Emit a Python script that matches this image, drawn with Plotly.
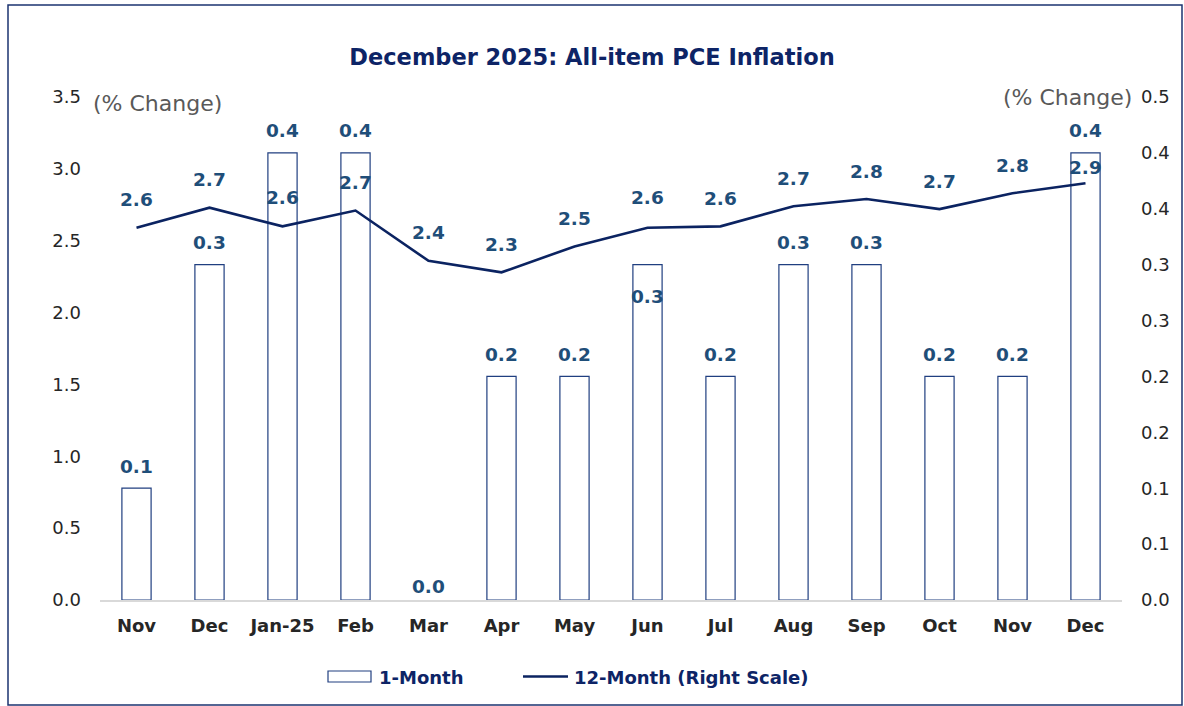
import plotly.graph_objects as go

# ---- data ----
months = ["Nov", "Dec", "Jan-25", "Feb", "Mar", "Apr", "May", "Jun",
          "Jul", "Aug", "Sep", "Oct", "Nov", "Dec"]
one_month = [0.1, 0.3, 0.4, 0.4, 0.0, 0.2, 0.2, 0.3, 0.2, 0.3, 0.3, 0.2, 0.2, 0.4]
twelve_month = [2.59, 2.73, 2.60, 2.71, 2.36, 2.28, 2.46, 2.59, 2.60, 2.74,
                2.79, 2.72, 2.83, 2.90]

# bar-axis (1-Month) ticks as printed on the chart
bar_tick_vals = [0.0, 0.05, 0.10, 0.15, 0.20, 0.25, 0.30, 0.35, 0.40, 0.45]
bar_tick_text = ["0.0", "0.1", "0.1", "0.2", "0.2", "0.3", "0.3", "0.4", "0.4", "0.5"]
# line-axis (12-Month) ticks
line_tick_vals = [0.0, 0.5, 1.0, 1.5, 2.0, 2.5, 3.0, 3.5]
line_tick_text = ["0.0", "0.5", "1.0", "1.5", "2.0", "2.5", "3.0", "3.5"]

series_names = ["1-Month", "12-Month (Right Scale)"]

# label offsets (pixels, styling only)
bar_label_shift = [22, 22, 22, 22, 14, 22, 22, -32, 22, 22, 22, 22, 22, 22]
line_label_shift = [28, 28, 29, 28, 28, 28, 28, 30, 28, 28, 28, 28, 28, 16]

FONT = "DejaVu Sans"
NAVY = "#0D2466"
LABEL = "#1F4E79"
LINE = "#0B2361"
BAR_EDGE = "#203F80"
TICK = "#262626"
GREY = "#595959"

x = list(range(len(months)))

W, H = 1184, 706
ML, MR, MT, MB = 100, 62, 97, 106
PW, PH = W - ML - MR, H - MT - MB


def px_x(p):
    return (p - ML) / PW


def px_y(p):
    return (H - MB - p) / PH


fig = go.Figure()

fig.add_trace(go.Bar(
    x=x, y=one_month, name=series_names[0], yaxis="y",
    marker=dict(color="white",
                line=dict(color=BAR_EDGE,
                          width=[1.2 if v > 0 else 0 for v in one_month])),
    width=0.4,
))
fig.add_trace(go.Scatter(
    x=x, y=twelve_month, name=series_names[1], yaxis="y2",
    mode="lines", line=dict(color=LINE, width=2.6),
))

label_font = dict(family=FONT, size=18.5, color=LABEL, weight="bold")
annotations = []
for i, v in enumerate(one_month):
    annotations.append(dict(
        x=x[i], y=v, xref="x", yref="y", text=f"{v:.1f}", showarrow=False,
        yshift=bar_label_shift[i], yanchor="middle", font=label_font,
    ))
for i, v in enumerate(twelve_month):
    annotations.append(dict(
        x=x[i], y=v, xref="x", yref="y2", text=f"{v:.1f}", showarrow=False,
        yshift=line_label_shift[i], yanchor="middle", font=label_font,
    ))

annotations.append(dict(
    x=px_x(91), y=px_y(104), xref="paper", yref="paper", text="(% Change)",
    showarrow=False, xanchor="left", yanchor="middle",
    font=dict(family=FONT, size=22, color=GREY),
))
annotations.append(dict(
    x=px_x(1134), y=px_y(97), xref="paper", yref="paper", text="(% Change)",
    showarrow=False, xanchor="right", yanchor="middle",
    font=dict(family=FONT, size=22, color=GREY),
))

# custom legend (text)
legend_font = dict(family=FONT, size=18, color=NAVY, weight="bold")
annotations.append(dict(
    x=px_x(377), y=px_y(677), xref="paper", yref="paper", text=series_names[0],
    showarrow=False, xanchor="left", yanchor="middle", font=legend_font,
))
annotations.append(dict(
    x=px_x(572), y=px_y(677), xref="paper", yref="paper", text=series_names[1],
    showarrow=False, xanchor="left", yanchor="middle", font=legend_font,
))

shapes = [
    # outer border
    dict(type="rect", xref="paper", yref="paper",
         x0=px_x(8), x1=px_x(1182), y0=px_y(705), y1=px_y(5),
         line=dict(color="#1B3370", width=1.5), fillcolor="rgba(0,0,0,0)",
         layer="below"),
    # legend swatches
    dict(type="rect", xref="paper", yref="paper",
         x0=px_x(328), x1=px_x(371), y0=px_y(682), y1=px_y(671),
         line=dict(color=BAR_EDGE, width=1.2), fillcolor="white"),
    dict(type="line", xref="paper", yref="paper",
         x0=px_x(523), x1=px_x(568), y0=px_y(676.5), y1=px_y(676.5),
         line=dict(color=LINE, width=2.6)),
]

fig.update_layout(
    width=W, height=H,
    margin=dict(l=ML, r=MR, t=MT, b=MB),
    paper_bgcolor="white", plot_bgcolor="white",
    title=dict(
        text="December 2025: All-item PCE Inflation",
        x=0.5, xanchor="center", y=1 - 57 / H, yanchor="middle",
        font=dict(family=FONT, size=22.5, color=NAVY, weight="bold"),
    ),
    xaxis=dict(
        tickvals=x, ticktext=months, range=[-0.5, len(months) - 0.5],
        showgrid=False, zeroline=False, showline=True,
        linecolor="#D9D9D9", linewidth=2, ticks="",
        ticklabelstandoff=8,
        tickfont=dict(family=FONT, size=18, color=TICK, weight="bold"),
    ),
    yaxis=dict(
        side="right", range=[0, 0.45],
        tickvals=bar_tick_vals, ticktext=bar_tick_text,
        showgrid=False, zeroline=False, showline=False,
        ticks="", ticklabelstandoff=18,
        tickfont=dict(family=FONT, size=18, color=TICK),
    ),
    yaxis2=dict(
        side="left", overlaying="y", range=[0, 3.5],
        tickvals=line_tick_vals, ticktext=line_tick_text,
        showgrid=False, zeroline=False, showline=False,
        ticks="", ticklabelstandoff=18,
        tickfont=dict(family=FONT, size=18, color=TICK),
    ),
    annotations=annotations,
    shapes=shapes,
    showlegend=False,
)

fig.write_html(
    "out.html",
    config={"displayModeBar": False},
    post_script="document.body.style.margin='0';document.body.style.overflow='hidden';",
)
